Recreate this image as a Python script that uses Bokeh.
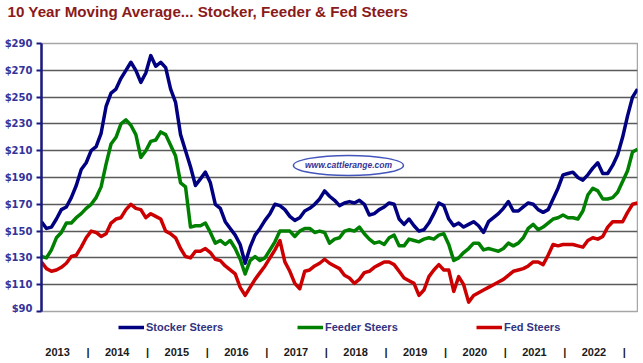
from bokeh.plotting import figure
from bokeh.layouts import column
from bokeh.models import Range1d, FixedTicker, Legend, LegendItem, Label, NumeralTickFormatter, Title
from bokeh.core.properties import value
from bokeh.embed import file_html
from bokeh.resources import INLINE

title_text = "10 Year Moving Average... Stocker, Feeder & Fed Steers"
start_year = 2013
year_labels = ["2013", "2014", "2015", "2016", "2017", "2018", "2019", "2020", "2021", "2022"]
y_ticks = [90, 110, 130, 150, 170, 190, 210, 230, 250, 270, 290]
series_names = ["Stocker Steers", "Feeder Steers", "Fed Steers"]

# monthly readings, Jan 2013 .. Jan 2023 ($/cwt)
stocker = [157, 152, 153, 159, 166, 168, 175, 184, 196, 201,
           210, 213, 223, 243, 253, 256, 264, 270, 276, 270,
           261, 268, 281, 273, 276, 272, 256, 246, 222, 210,
           198, 184, 189, 194, 186, 170, 167, 157, 152, 147,
           140, 126, 138, 147, 152, 158, 163, 170, 169, 166,
           161, 158, 160, 165, 167, 170, 174, 180, 176, 173,
           169, 171, 172, 171, 173, 170, 162, 163, 166, 168,
           171, 170, 159, 155, 159, 154, 150, 151, 156, 163,
           171, 169, 159, 154, 156, 153, 155, 157, 154, 149,
           157, 160, 163, 167, 172, 165, 165, 168, 171, 170,
           166, 164, 166, 174, 182, 192, 193, 194, 190, 188,
           192, 197, 201, 193, 193, 199, 207, 220, 236, 250, 256]
feeder = [131, 130, 136, 145, 149, 156, 156, 160, 163, 167,
          170, 175, 183, 200, 215, 220, 230, 233, 229, 222,
          205, 210, 217, 218, 224, 222, 214, 206, 186, 183,
          153, 154, 154, 156, 149, 141, 143, 140, 143, 137,
          129, 118, 128, 131, 128, 130, 136, 142, 150, 150,
          150, 146, 150, 152, 152, 149, 150, 149, 141, 144,
          145, 150, 151, 150, 153, 148, 144, 141, 142, 140,
          145, 147, 139, 139, 144, 143, 142, 144, 145, 144,
          147, 148, 140, 128, 130, 134, 137, 141, 141, 136,
          137, 136, 135, 137, 141, 139, 141, 145, 152, 155,
          151, 153, 156, 159, 160, 162, 160, 160, 159, 165,
          177, 182, 180, 174, 174, 175, 179, 187, 195, 209, 211]
fed = [127, 122, 120, 121, 123, 126, 131, 132, 138, 145,
       150, 149, 146, 148, 156, 159, 160, 166, 170, 167,
       166, 160, 163, 161, 159, 150, 148, 145, 137, 131,
       130, 135, 135, 137, 134, 129, 128, 124, 121, 118,
       108, 102, 108, 114, 119, 124, 130, 136, 143, 127,
       120, 111, 107, 120, 121, 124, 126, 129, 126, 124,
       122, 117, 115, 111, 114, 119, 120, 123, 125, 127,
       127, 125, 120, 115, 113, 111, 102, 106, 116, 121,
       125, 121, 121, 105, 116, 110, 97, 102, 104, 106,
       108, 110, 112, 114, 117, 120, 121, 122, 124, 127,
       127, 125, 132, 140, 139, 140, 140, 140, 139, 138,
       143, 145, 144, 146, 153, 157, 157, 157, 164, 170, 171]

colors = ["#000080", "#008000", "#CC0000"]
x = [start_year + i / 12 for i in range(len(stocker))]
xr = Range1d(start_year, start_year + len(year_labels))
LEFT = 41
W = 638

# ---------------- main chart ----------------
p = figure(width=W, height=313, output_backend="svg", toolbar_location=None,
           x_range=xr, y_range=Range1d(y_ticks[0], y_ticks[-1]), x_axis_location=None,
           min_border_left=LEFT, min_border_right=1, min_border_top=0, min_border_bottom=2,
           background_fill_color="white", border_fill_color="white")

# spacer between title and plot area, then the title itself (outermost)
p.add_layout(Title(text=" ", text_font_size="15.2px", standoff=4), "above")
p.add_layout(Title(text=title_text, text_font="Liberation Sans", text_font_style="bold",
                   text_font_size="15.2px", text_color="#8B1A1A", align="left",
                   offset=-(LEFT - 7), standoff=1), "above")

p.outline_line_color = "#A6A6A6"
p.outline_line_width = 1.5

ya = p.yaxis[0]
ya.ticker = FixedTicker(ticks=y_ticks)
ya.formatter = NumeralTickFormatter(format="$0")
ya.axis_line_color = "#1A1A80"
ya.axis_line_width = 2.5
ya.major_tick_line_color = "#1A1A80"
ya.major_tick_line_width = 2
ya.major_tick_out = 5
ya.major_tick_in = 0
ya.minor_tick_line_color = None
ya.major_label_standoff = 4
ya.major_label_text_font = "DejaVu Sans"
ya.major_label_text_font_style = "bold"
ya.major_label_text_font_size = "10px"
ya.major_label_text_color = "#333399"

p.ygrid.ticker = FixedTicker(ticks=y_ticks)
p.ygrid.grid_line_color = "#5A5A5A"
p.ygrid.grid_line_width = 1.3
p.xgrid.visible = False

# watermark
p.ellipse(x=[2018.15], y=[199], width=110, height=20, width_units="screen", height_units="screen",
          fill_color=None, line_color="#4455BB", line_width=1.5)
p.add_layout(Label(x=2018.15, y=199, text="www.cattlerange.com", text_align="center",
                   text_baseline="middle", text_font="Liberation Sans", text_font_style="bold italic",
                   text_font_size="8.5px", text_color="#333399"))

for vals, c in zip([stocker, feeder, fed], colors):
    p.line(x, vals, line_color=c, line_width=3.5, line_join="round")

# ---------------- legend + year row ----------------
q = figure(width=W, height=47, output_backend="svg", toolbar_location=None,
           x_range=xr, y_range=Range1d(0, 1), x_axis_location=None, y_axis_location=None,
           min_border_left=LEFT, min_border_right=1, min_border_top=0, min_border_bottom=0,
           background_fill_color="white", border_fill_color="white", outline_line_color=None)
q.grid.visible = False

items = []
for name, vals, c in zip(series_names, [stocker, feeder, fed], colors):
    r = q.line(x, vals, line_color=c, line_width=3.5)   # off-range in this strip; legend swatch only
    items.append(LegendItem(label=name, renderers=[r]))

legend = Legend(items=items, orientation="horizontal", location=(77, 27), margin=0, padding=3,
                spacing=11, glyph_width=26, glyph_height=12, label_standoff=2, label_width=140,
                label_text_font="Liberation Sans", label_text_font_style="bold",
                label_text_font_size="11px", label_text_color="#333380",
                border_line_color=None, background_fill_alpha=0)
q.add_layout(legend)

label_pos = [start_year + i + 0.27 for i in range(len(year_labels))]
sep_pos = [start_year + i + 0.78 for i in range(len(year_labels))]
row_y = 0.18
q.text(x=label_pos, y=[row_y] * len(label_pos), text=year_labels,
       text_align="center", text_baseline="middle", text_font=value("Liberation Sans"),
       text_font_style="bold", text_font_size="11px", text_color="#1A1A1A")
q.text(x=sep_pos, y=[row_y] * len(sep_pos), text=["|"] * len(sep_pos),
       text_align="center", text_baseline="middle", text_font=value("Liberation Sans"),
       text_font_style="bold", text_font_size="11px", text_color="#1A1A1A")

layout = column(p, q, spacing=0)
open("out.html", "w").write(file_html(layout, INLINE))
